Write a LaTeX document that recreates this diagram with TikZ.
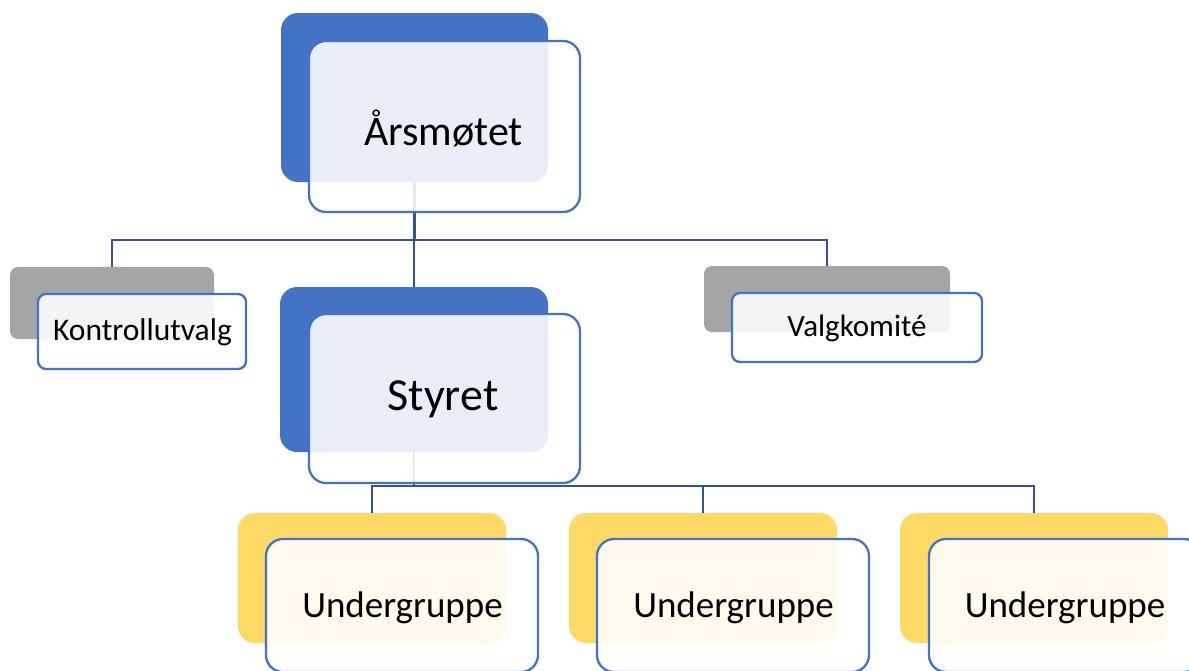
\documentclass[tikz,border=0pt]{standalone}
\usepackage{fontspec}
\setmainfont{Carlito}
\definecolor{dblue}{HTML}{4472C4}
\definecolor{lineblue}{HTML}{2F5597}
\definecolor{dgray}{HTML}{A5A5A5}
\definecolor{dyellow}{HTML}{FFD966}
\tikzset{
  backbox/.style={rectangle, draw=none, fill=#1, rounded corners=17pt, inner sep=0pt},
  smallback/.style={rectangle, draw=none, fill=#1, rounded corners=8pt, inner sep=0pt},
  frontbox/.style={rectangle, draw=dblue, line width=2.3pt, fill=white, fill opacity=0.88, text opacity=1, rounded corners=17pt, inner sep=0pt, text=black},
  smallfront/.style={frontbox, rounded corners=8pt},
  conn/.style={draw=lineblue, line width=2.3pt},
  label/.style={text=black, inner sep=0pt},
}
\begin{document}
\begin{tikzpicture}[x=1pt,y=-1pt]
\useasboundingbox (0,0) rectangle (1189,670);
\clip (0,0) rectangle (1189,670);
% back boxes
\node[backbox=dblue, minimum width=267pt, minimum height=169pt] (aarsb) at (414.5,97.5) {};
\node[backbox=dblue, minimum width=268pt, minimum height=165pt] (styb) at (414,369.5) {};
\node[smallback=dgray, minimum width=204pt, minimum height=72pt] (kontb) at (112,303) {};
\node[smallback=dgray, minimum width=246pt, minimum height=66pt] (valgb) at (827,299) {};
\node[backbox=dyellow, minimum width=268pt, minimum height=130pt] (u1b) at (372,578) {};
\node[backbox=dyellow, minimum width=268pt, minimum height=130pt] (u2b) at (703,578) {};
\node[backbox=dyellow, minimum width=268pt, minimum height=130pt] (u3b) at (1034,578) {};
% connectors
\coordinate (bus1) at (414,240);
\coordinate (bus2) at (414,486);
\draw[conn] (aarsb.south) -- (aarsb.south |- bus1);
\draw[conn] (kontb.north) -- (kontb.north |- bus1) -- (valgb.north |- bus1) -- (valgb.north);
\draw[conn] (styb.north |- bus1) -- (styb.north);
\draw[conn] (styb.south) -- (styb.south |- bus2);
\draw[conn] (u1b.north) -- (u1b.north |- bus2) -- (u3b.north |- bus2) -- (u3b.north);
\draw[conn] (u2b.north) -- (u2b.north |- bus2);
% front boxes
\node[frontbox, minimum width=271pt, minimum height=171pt] (aars) at (444.5,126.5) {};
\node[label, font=\fontsize{42}{50}\selectfont] (aarst) at (443.5,128) {Årsmøtet};
\node[frontbox, minimum width=271pt, minimum height=169pt] (sty) at (444.5,398.5) {};
\node[label, font=\fontsize{46}{54}\selectfont] (styt) at (443,399) {Styret};
\node[smallfront, minimum width=208pt, minimum height=75pt] (kont) at (142,331.5) {};
\node[label, font=\fontsize{31.5}{36}\selectfont] (kontt) at (142.5,332) {Kontrollutvalg};
\node[smallfront, minimum width=250pt, minimum height=69pt] (valg) at (857,327.5) {};
\node[label, font=\fontsize{31}{36}\selectfont] (valgt) at (857,328) {Valgkomité};
\node[frontbox, minimum width=272pt, minimum height=133pt] (u1) at (402,605.5) {};
\node[frontbox, minimum width=272pt, minimum height=133pt] (u2) at (733,605.5) {};
\node[frontbox, minimum width=272pt, minimum height=133pt] (u3) at (1065,605.5) {};
\node[label, font=\fontsize{37}{44}\selectfont] (u1t) at (402.5,608) {Undergruppe};
\node[label, font=\fontsize{37}{44}\selectfont] (u2t) at (733.5,608) {Undergruppe};
\node[label, font=\fontsize{37}{44}\selectfont] (u3t) at (1065,608) {Undergruppe};
\end{tikzpicture}
\end{document}
